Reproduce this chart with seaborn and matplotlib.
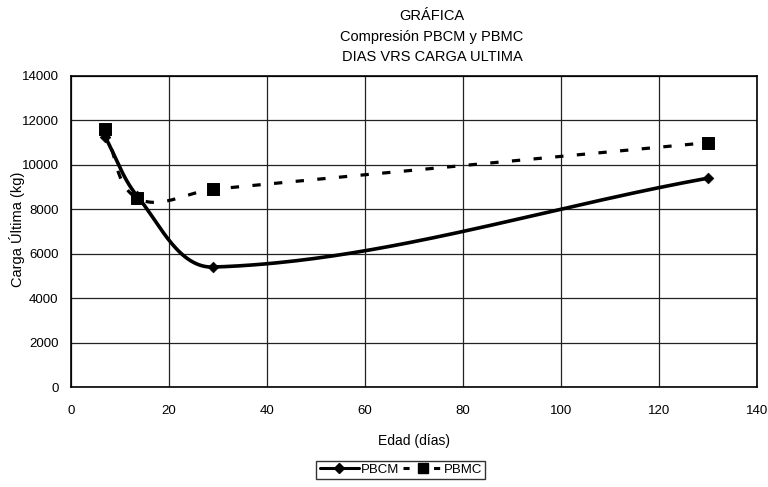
import numpy as np
import pandas as pd
import matplotlib
matplotlib.use("Agg")
import matplotlib.pyplot as plt
import seaborn as sns
from matplotlib.lines import Line2D

sns.set_theme(style="white")
plt.rcParams["font.family"] = ["Liberation Sans Narrow", "Liberation Sans", "DejaVu Sans"]
plt.rcParams["text.color"] = "black"
plt.rcParams["axes.labelcolor"] = "black"
plt.rcParams["xtick.color"] = "black"
plt.rcParams["ytick.color"] = "black"

# Edad de los especímenes (días) y carga última (kg)
edad = [7, 13.5, 29, 130]
pbcm = [11250, 8600, 5400, 9400]
pbmc = [11600, 8500, 8900, 11000]

x_ticks = [0, 20, 40, 60, 80, 100, 120, 140]
y_ticks = [0, 2000, 4000, 6000, 8000, 10000, 12000, 14000]

# escala aproximada del área de trazado (px por unidad) para suavizar en pantalla
SX = 686 / 140
SY = 311 / 14000


def suavizar(x, y, n=80):
    """Curva suavizada con Bezier cúbico; tangentes de vecinos, longitud según la cuerda."""
    p = np.column_stack([np.asarray(x) * SX, np.asarray(y) * SY]).astype(float)
    pts = []
    for i in range(len(p) - 1):
        p0 = p[i - 1] if i > 0 else p[i]
        p1, p2 = p[i], p[i + 1]
        p3 = p[i + 2] if i + 2 < len(p) else p[i + 1]
        cuerda = np.linalg.norm(p2 - p1)
        d1 = p2 - p0
        d2 = p3 - p1
        d1 = d1 / np.linalg.norm(d1)
        d2 = d2 / np.linalg.norm(d2)
        c1 = p1 + d1 * cuerda / 3.0
        c2 = p2 - d2 * cuerda / 3.0
        t = np.linspace(0, 1, n)[:, None]
        seg = ((1 - t) ** 3) * p1 + 3 * ((1 - t) ** 2) * t * c1 + 3 * (1 - t) * t ** 2 * c2 + t ** 3 * p2
        pts.append(seg if i == 0 else seg[1:])
    out = np.vstack(pts)
    return out[:, 0] / SX, out[:, 1] / SY


fig = plt.figure(figsize=(7.68, 4.87), dpi=100)
ax = fig.add_axes([0.0924, 0.2053, 0.8933, 0.6387])

xa, ya = suavizar(edad, pbcm)
xb, yb = suavizar(edad, pbmc)
curva_pbcm = pd.DataFrame({"x": xa, "y": ya})
curva_pbmc = pd.DataFrame({"x": xb, "y": yb})

sns.lineplot(data=curva_pbmc, x="x", y="y", ax=ax, color="black", lw=2.3,
             linestyle=(0, (2.6, 4.2)), sort=False, estimator=None)
sns.lineplot(data=curva_pbcm, x="x", y="y", ax=ax, color="black", lw=2.6,
             sort=False, estimator=None)

puntos = pd.DataFrame({"edad": edad, "PBCM": pbcm, "PBMC": pbmc})
sns.scatterplot(data=puntos, x="edad", y="PBMC", ax=ax, marker="s", s=75,
                color="black", edgecolor="black", zorder=5)
sns.scatterplot(data=puntos, x="edad", y="PBCM", ax=ax, marker="D", s=30,
                color="black", edgecolor="black", zorder=6)

ax.set_xlim(0, 140)
ax.set_ylim(0, 14000)
ax.set_xticks(x_ticks)
ax.set_yticks(y_ticks)
ax.set_xticklabels([str(v) for v in x_ticks], fontsize=9.5)
ax.set_yticklabels([str(v) for v in y_ticks], fontsize=9.5)
ax.tick_params(axis="both", direction="out", length=4, width=1, color="black", pad=5)
ax.tick_params(axis="x", pad=9)
ax.grid(True, color="#222222", lw=0.9)
for s in ax.spines.values():
    s.set_color("black")
    s.set_linewidth(1.2)

ax.set_xlabel("Edad (días)", fontsize=10, labelpad=12)
ax.set_ylabel("")
fig.text(0.022, 0.53, "Carga Última (kg)", rotation=90, ha="center", va="center", fontsize=10.5)

fig.text(0.5625, 0.968, "GRÁFICA", ha="center", va="center", fontsize=10.5)
fig.text(0.5625, 0.925, "Compresión PBCM y PBMC", ha="center", va="center", fontsize=10.5)
fig.text(0.5625, 0.882, "DIAS VRS CARGA ULTIMA", ha="center", va="center", fontsize=10.5)

handles = [
    Line2D([], [], color="black", lw=2.2, marker="D", markersize=5),
    Line2D([], [], color="black", lw=2.2, linestyle=(0, (2, 3)), marker="s", markersize=7),
]
leg = fig.legend(handles, ["PBCM", "PBMC"], loc="center", bbox_to_anchor=(0.522, 0.035),
                 ncol=2, frameon=True, fancybox=False, fontsize=9.5,
                 handlelength=3.0, handletextpad=0.1, columnspacing=0.3,
                 borderpad=0.25)
leg.get_frame().set_edgecolor("black")
leg.get_frame().set_linewidth(1.0)

fig.savefig("out.png", dpi=100)
